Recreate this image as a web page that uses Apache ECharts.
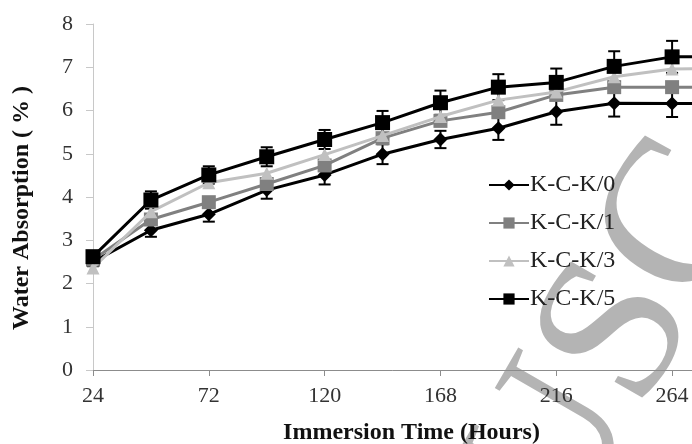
<!DOCTYPE html>
<html>
<head>
<meta charset="utf-8">
<script src="https://cdn.jsdelivr.net/npm/echarts@6/dist/echarts.min.js"></script>
<style>html,body{margin:0;padding:0;background:#fff;}#c{width:692px;height:444px;}</style>
</head>
<body>
<div id="c"></div>
<script>
var hours = [24, 48, 72, 96, 120, 144, 168, 192, 216, 240, 264, 288];
var tickLabels = [24, 72, 120, 168, 216, 264];
var seriesNames = ['K-C-K/0', 'K-C-K/1', 'K-C-K/3', 'K-C-K/5'];
var kck0 = [2.50, 3.23, 3.60, 4.16, 4.51, 4.99, 5.33, 5.59, 5.97, 6.17, 6.16, 6.16];
var kck1 = [2.55, 3.48, 3.88, 4.30, 4.73, 5.36, 5.76, 5.96, 6.36, 6.54, 6.54, 6.54];
var kck3 = [2.36, 3.66, 4.33, 4.55, 4.98, 5.42, 5.86, 6.24, 6.43, 6.78, 6.96, 6.98];
var kck5 = [2.62, 3.93, 4.51, 4.93, 5.33, 5.72, 6.18, 6.54, 6.65, 7.02, 7.24, 7.25];
var err0 = [0.10, 0.15, 0.17, 0.20, 0.22, 0.23, 0.20, 0.27, 0.30, 0.31, 0.31, 0.31];
var err5 = [0.10, 0.20, 0.20, 0.22, 0.22, 0.27, 0.28, 0.30, 0.32, 0.35, 0.37, 0.37];

var FONT = "'Liberation Serif','Times New Roman',serif";

function pairs(vals) { return hours.map(function (h, i) { return [h, vals[i]]; }); }
function errData(vals, errs) { return hours.map(function (h, i) { return [h, vals[i], errs[i]]; }); }

function errRender(color) {
  return function (params, api) {
    var x = api.value(0), y = api.value(1), e = api.value(2);
    var top = api.coord([x, y + e]);
    var bot = api.coord([x, y - e]);
    var w = 6;
    var st = { stroke: color, lineWidth: 2 };
    return {
      type: 'group',
      children: [
        { type: 'line', shape: { x1: top[0], y1: top[1], x2: bot[0], y2: bot[1] }, style: st },
        { type: 'line', shape: { x1: top[0] - w, y1: top[1], x2: top[0] + w, y2: top[1] }, style: st },
        { type: 'line', shape: { x1: bot[0] - w, y1: bot[1], x2: bot[0] + w, y2: bot[1] }, style: st }
      ]
    };
  };
}

var chart = echarts.init(document.getElementById('c'), null, { renderer: 'canvas' });
var colors = ['#000000', '#808080', '#c0c0c0', '#000000'];
var symbols = ['diamond', 'rect', 'triangle', 'rect'];
var sizes = [14, 14, 13, 15];
var vals = [kck0, kck1, kck3, kck5];

var series = [];
series.push({ type: 'custom', name: 'err0', data: errData(kck0, err0), renderItem: errRender('#000'), z: 1, silent: true });
series.push({ type: 'custom', name: 'err5', data: errData(kck5, err5), renderItem: errRender('#000'), z: 1, silent: true });
seriesNames.forEach(function (n, i) {
  series.push({
    type: 'line', name: n, data: pairs(vals[i]),
    symbol: symbols[i], symbolSize: sizes[i], showAllSymbol: true,
    lineStyle: { color: colors[i], width: 3 },
    itemStyle: { color: colors[i], borderWidth: 0 },
    z: 2 + i, animation: false
  });
});

chart.setOption({
  animation: false,
  backgroundColor: '#fff',
  graphic: [{
    type: 'text', left: 425, top: 110, z: -1, rotation: 60 * Math.PI / 180,
    style: { text: 'USC', font: "210px 'Liberation Serif'", fill: '#b4b4b4' }
  }],
  grid: { left: 93, top: 24, bottom: 74, width: 637, outerBoundsMode: 'none', containLabel: false },
  legend: {
    orient: 'vertical', left: 483, top: 168,
    itemWidth: 40, itemHeight: 14, itemGap: 14,
    data: seriesNames,
    textStyle: { fontFamily: FONT, fontSize: 24, color: '#222', padding: [0, 0, 0, -4] }
  },
  xAxis: {
    type: 'value', min: 24, max: 288,
    name: 'Immersion Time (Hours)', nameLocation: 'middle', nameGap: 51,
    nameTextStyle: { fontFamily: FONT, fontSize: 24, fontWeight: 'bold', color: '#111' },
    axisLine: { lineStyle: { color: '#8c8c8c', width: 1 } },
    axisTick: { show: true, length: 6, lineStyle: { color: '#8c8c8c' }, customValues: tickLabels },
    axisLabel: { customValues: tickLabels, fontFamily: FONT, fontSize: 22, color: '#333', margin: 15, showMaxLabel: true },
    splitLine: { show: false }
  },
  yAxis: {
    type: 'value', min: 0, max: 8, interval: 1,
    name: 'Water Absorption ( % )', nameLocation: 'middle', nameGap: 59, nameRotate: 90,
    nameTextStyle: { fontFamily: FONT, fontSize: 24, fontWeight: 'bold', color: '#111', padding: [0, 22, 0, 0] },
    axisLine: { show: true, lineStyle: { color: '#c8c8c8', width: 1 } },
    axisTick: { show: true, length: 7, lineStyle: { color: '#c8c8c8' } },
    axisLabel: { fontFamily: FONT, fontSize: 22, color: '#333', margin: 20 },
    splitLine: { show: false }
  },
  series: series
});
</script>
</body>
</html>
